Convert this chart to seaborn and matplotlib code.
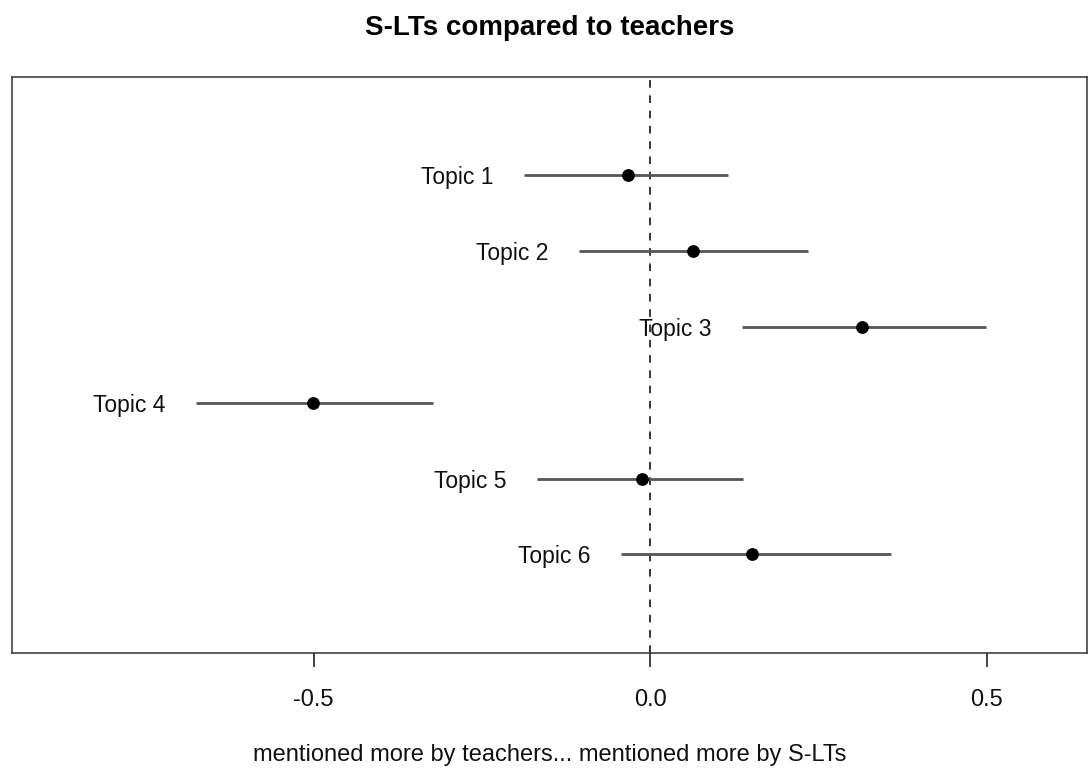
import matplotlib
matplotlib.use("Agg")
import matplotlib.pyplot as plt
import seaborn as sns
import pandas as pd

# Estimated topic-prevalence differences (S-LTs minus teachers) with 95% intervals
topics = ["Topic 1", "Topic 2", "Topic 3", "Topic 4", "Topic 5", "Topic 6"]
estimate = [-0.033, 0.064, 0.315, -0.501, -0.012, 0.152]
ci_lower = [-0.187, -0.105, 0.137, -0.675, -0.168, -0.043]
ci_upper = [0.116, 0.235, 0.499, -0.322, 0.138, 0.358]
x_ticks = [-0.5, 0.0, 0.5]
x_tick_labels = ["-0.5", "0.0", "0.5"]

df = pd.DataFrame({
    "topic": topics,
    "estimate": estimate,
    "lower": ci_lower,
    "upper": ci_upper,
    "pos": range(1, len(topics) + 1),
})

sns.set_theme(style="white")
plt.rcParams["font.family"] = ["Liberation Sans", "DejaVu Sans"]

fig = plt.figure(figsize=(10.88, 7.69), dpi=100)
ax = fig.add_axes([0.011, 0.151, 0.988, 0.749])

# zero reference line
ax.axvline(0, color="black", linestyle=(0, (5, 5)), linewidth=1.1, zorder=1)

# confidence intervals
ax.hlines(df["pos"], df["lower"], df["upper"], color="#555555", linewidth=2, zorder=2)

# point estimates
sns.scatterplot(data=df, x="estimate", y="pos", ax=ax, color="black",
                s=85, edgecolor="black", linewidth=0, zorder=3, legend=False)

# topic labels to the left of each interval
for _, row in df.iterrows():
    ax.annotate(row["topic"], xy=(row["lower"], row["pos"]), xytext=(-22, 0),
                textcoords="offset points", ha="right", va="center_baseline",
                fontsize=16.5, color="#111111")

ax.set_xlim(-0.948, 0.649)
ax.set_ylim(7.30, -0.30)
ax.set_yticks([])
ax.set_xticks(x_ticks)
ax.set_xticklabels(x_tick_labels, fontsize=17, color="#111111")
ax.tick_params(axis="x", direction="out", length=10, width=1.1, pad=16,
               bottom=True, colors="#111111")

for side in ["left", "right", "top", "bottom"]:
    ax.spines[side].set_visible(True)
    ax.spines[side].set_color("#333333")
    ax.spines[side].set_linewidth(1.1)

ax.set_xlabel("mentioned more by teachers... mentioned more by S-LTs",
              fontsize=17, color="#111111", labelpad=24)
ax.set_ylabel("")

fig.text(0.505, 0.964, "S-LTs compared to teachers", ha="center", va="center",
         fontsize=20, fontweight="bold", color="black")

fig.savefig("out.png", dpi=100, facecolor="white")
